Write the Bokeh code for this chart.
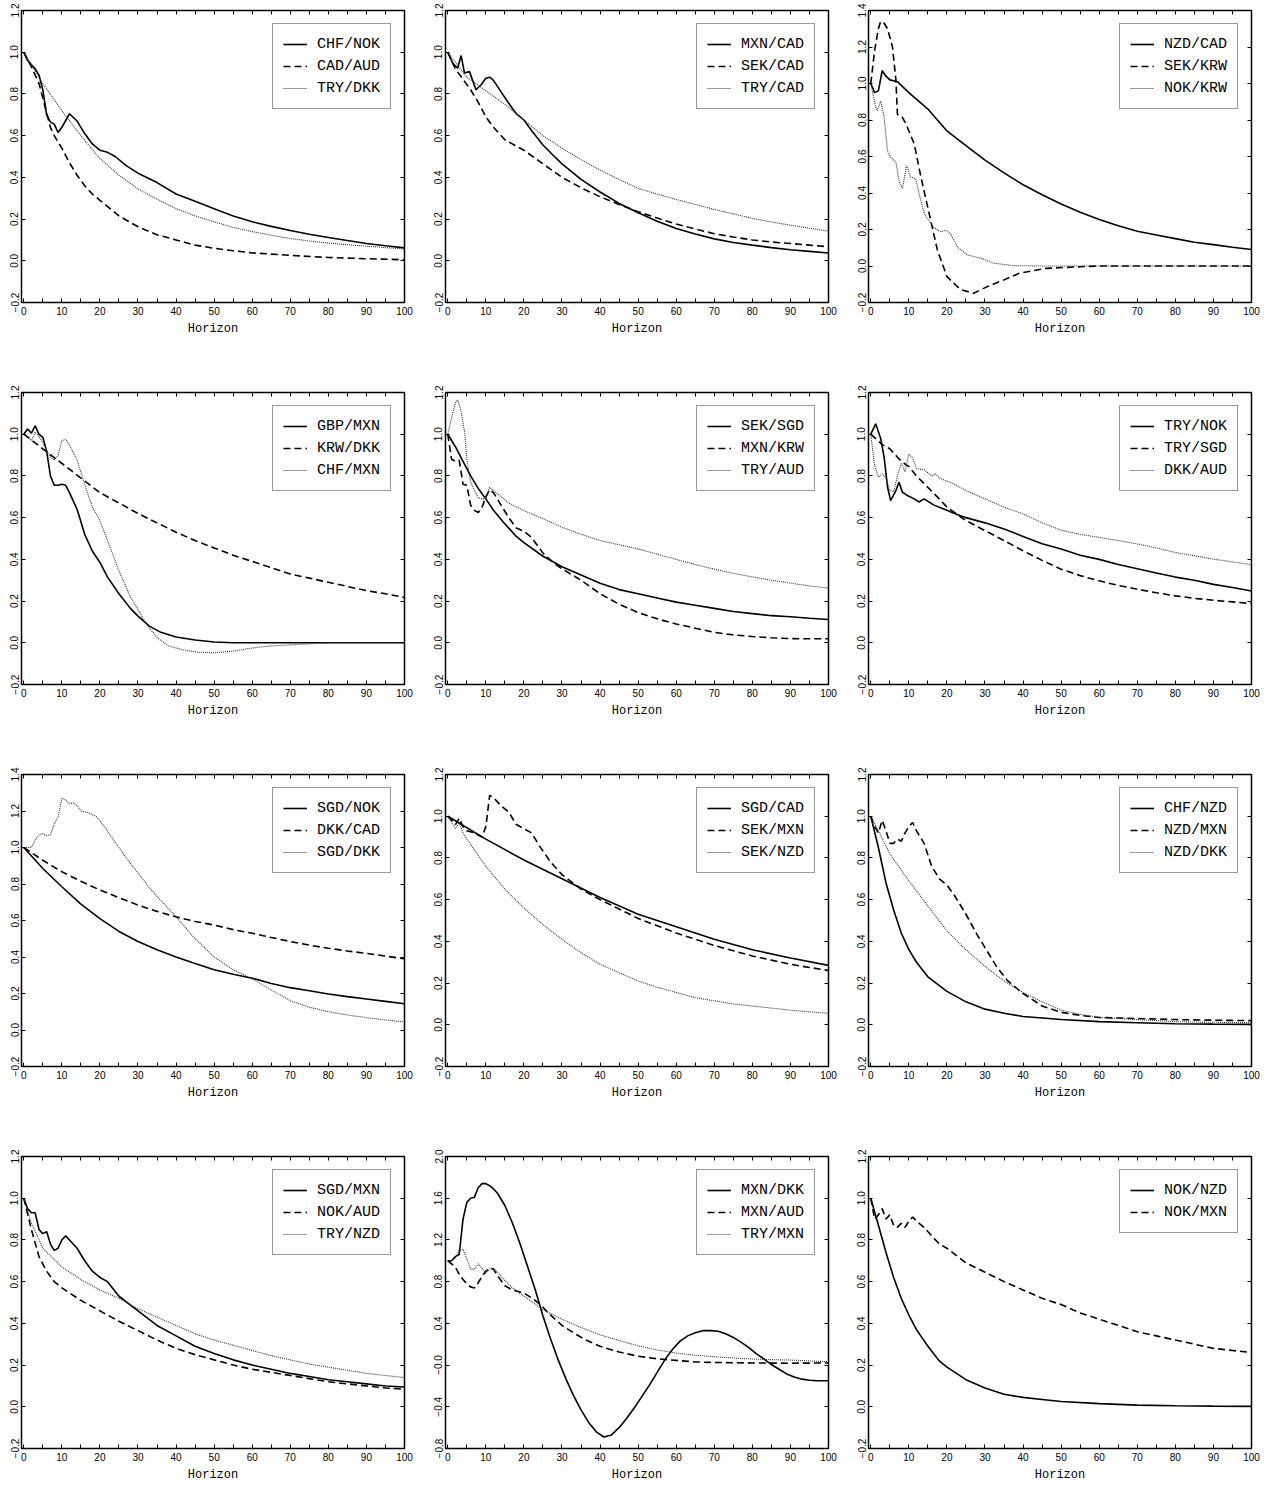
from bokeh.plotting import figure
from bokeh.layouts import gridplot
from bokeh.models import Range1d, FixedTicker, LinearAxis, CustomJSTickFormatter
from bokeh.embed import file_html
from bokeh.resources import INLINE

# ---------------- data ----------------
# Panel 1
chf_nok_h = [0,1,3,4,5,6,7,8,9,10,12,14,16,18,20,22,24,27,30,35,40,45,50,55,60,65,70,75,80,85,90,95,100]
chf_nok_v = [1.0,0.96,0.92,0.89,0.82,0.70,0.665,0.655,0.615,0.64,0.705,0.67,0.61,0.56,0.53,0.52,0.50,0.455,0.42,0.375,0.32,0.285,0.25,0.215,0.187,0.165,0.145,0.127,0.112,0.097,0.083,0.072,0.062]
cad_aud_h = [0,2,4,5,6,7,8,9,10,12,14,16,18,20,25,30,35,40,45,50,55,60,70,80,90,100]
cad_aud_v = [1.0,0.93,0.85,0.78,0.71,0.64,0.60,0.57,0.54,0.47,0.41,0.36,0.32,0.29,0.215,0.163,0.125,0.10,0.075,0.06,0.048,0.038,0.026,0.016,0.01,0.005]
try_dkk_h = [0,5,10,15,20,25,30,35,40,45,50,55,60,65,70,75,80,85,90,95,100]
try_dkk_v = [1.0,0.85,0.72,0.60,0.49,0.41,0.345,0.295,0.25,0.215,0.187,0.16,0.14,0.122,0.107,0.095,0.085,0.077,0.07,0.063,0.057]
# Panel 2
mxn_cad_h = [0,1.3,2.6,3.5,4.4,5.7,7.4,8.7,10,11,12,14,16,18,20,22,25,28,30,35,40,45,50,55,60,65,70,75,80,85,90,95,100]
mxn_cad_v = [1.0,0.947,0.923,0.984,0.90,0.907,0.82,0.843,0.875,0.88,0.865,0.81,0.755,0.705,0.675,0.625,0.555,0.50,0.465,0.39,0.33,0.275,0.23,0.19,0.155,0.128,0.105,0.088,0.075,0.063,0.053,0.045,0.037]
sek_cad_h = [0,2,4,6,8,10,12,15,20,25,30,35,40,45,50,55,60,65,70,75,80,85,90,95,100]
sek_cad_v = [1.0,0.92,0.87,0.82,0.76,0.69,0.64,0.58,0.53,0.465,0.40,0.35,0.307,0.27,0.235,0.205,0.176,0.152,0.13,0.114,0.10,0.09,0.083,0.075,0.067]
try_cad_h = [0,5,10,15,20,25,30,35,40,45,50,55,60,65,70,75,80,85,90,95,100]
try_cad_v = [1.0,0.88,0.815,0.75,0.675,0.60,0.54,0.485,0.435,0.39,0.347,0.32,0.294,0.27,0.246,0.225,0.203,0.186,0.171,0.156,0.142]
# Panel 3
nzd_cad_h = [0,1,2,3,4,5,7,10,15,20,25,30,35,40,45,50,55,60,65,70,75,80,85,90,95,100]
nzd_cad_v = [1.0,0.95,0.96,1.07,1.04,1.02,1.01,0.95,0.86,0.74,0.66,0.58,0.51,0.445,0.39,0.34,0.295,0.255,0.22,0.19,0.17,0.15,0.13,0.117,0.103,0.09]
sek_krw_h = [0,1,2,2.6,3.5,4.4,5.7,6.6,7,8.3,9.2,11.4,13,15.3,17.5,20,23.6,27,30.6,35,39,46,55,60,100]
sek_krw_v = [1.0,1.18,1.30,1.34,1.33,1.30,1.20,1.02,0.83,0.815,0.78,0.67,0.505,0.29,0.087,-0.058,-0.13,-0.149,-0.113,-0.076,-0.04,-0.013,-0.004,0.0,0.0]
nok_krw_h = [0,1.3,1.7,2.6,3.5,4.4,5.2,6.6,7.4,8.3,9.4,10.5,11.8,12.7,14,16.6,18.4,19.7,21,22.7,25.4,29,32.4,37.6,45,100]
nok_krw_v = [1.0,0.87,0.85,0.905,0.815,0.63,0.596,0.569,0.469,0.424,0.55,0.487,0.478,0.396,0.287,0.21,0.187,0.195,0.175,0.105,0.06,0.042,0.015,0.002,0.0,0.0]
# Panel 4
gbp_mxn_h = [0,1,2,3,4,5,6,7,8,9,10,11,12,14,16,18,20,22,25,28,30,33,36,40,45,50,55,100]
gbp_mxn_v = [1.0,1.025,1.005,1.04,1.0,0.985,0.92,0.80,0.755,0.755,0.76,0.755,0.72,0.64,0.52,0.44,0.385,0.315,0.235,0.165,0.128,0.08,0.05,0.028,0.013,0.004,0.0,0.0]
krw_dkk_h = [0,5,10,15,20,25,30,35,40,45,50,55,60,65,70,75,80,85,90,95,100]
krw_dkk_v = [1.0,0.93,0.86,0.79,0.72,0.67,0.62,0.575,0.53,0.49,0.455,0.42,0.39,0.36,0.33,0.31,0.29,0.27,0.25,0.235,0.217]
chf_mxn_h = [0,1,2,3,4,5,6,7,8,9,10,11,12,14,16,18,20,22,25,28,30,32,35,38,42,46,50,55,60,65,70,75,80,100]
chf_mxn_v = [1.0,0.99,0.97,1.01,0.99,0.96,0.92,0.89,0.875,0.90,0.97,0.975,0.95,0.875,0.76,0.65,0.585,0.49,0.345,0.22,0.16,0.095,0.025,-0.015,-0.035,-0.045,-0.048,-0.04,-0.025,-0.015,-0.01,-0.005,0.0,0.0]
# Panel 5
sek_sgd_h = [0,2,4,6,8,10,12,15,18,20,25,30,35,40,45,50,55,60,65,70,75,80,85,90,95,100]
sek_sgd_v = [1.0,0.94,0.87,0.80,0.74,0.69,0.635,0.57,0.51,0.48,0.415,0.365,0.325,0.285,0.255,0.235,0.215,0.195,0.18,0.165,0.15,0.14,0.13,0.125,0.118,0.112]
mxn_krw_h = [0,1,2,3,4,5,6,7,8,9,10,11,12,14,16,18,20,22,25,28,30,35,40,45,50,55,60,65,70,75,80,85,90,95,100]
mxn_krw_v = [1.0,0.88,0.87,0.875,0.76,0.755,0.66,0.635,0.625,0.65,0.70,0.735,0.72,0.66,0.60,0.55,0.535,0.505,0.43,0.38,0.355,0.30,0.235,0.185,0.145,0.115,0.09,0.07,0.05,0.038,0.03,0.024,0.02,0.019,0.019]
try_aud_h = [0,1,2,2.6,3.5,4.5,5,6,7,8,9,10,11,12,14,16,20,25,30,35,40,45,50,55,60,65,70,75,80,85,90,95,100]
try_aud_v = [1.0,1.08,1.15,1.165,1.11,1.0,0.88,0.77,0.73,0.695,0.69,0.69,0.745,0.73,0.70,0.67,0.634,0.595,0.554,0.52,0.49,0.47,0.45,0.425,0.40,0.375,0.353,0.333,0.316,0.30,0.286,0.273,0.262]
# Panel 6
try_nok_h = [0,1.3,2.6,3.5,4.4,5.2,6.6,7.4,8.3,9.6,11.4,12.7,14,16.6,20,22,25,30,35,40,45,50,55,60,65,70,75,80,85,90,95,100]
try_nok_v = [1.0,1.05,0.98,0.89,0.746,0.682,0.73,0.77,0.722,0.706,0.69,0.675,0.69,0.66,0.635,0.62,0.60,0.575,0.545,0.51,0.475,0.45,0.42,0.40,0.375,0.355,0.335,0.315,0.30,0.28,0.265,0.248]
try_sgd_h = [0,3,5,8,10,12,15,18,20,25,30,35,40,45,50,55,60,65,70,75,80,85,90,95,100]
try_sgd_v = [1.0,0.95,0.93,0.87,0.845,0.80,0.745,0.69,0.65,0.586,0.538,0.49,0.441,0.395,0.353,0.322,0.297,0.275,0.257,0.24,0.225,0.213,0.204,0.196,0.188]
dkk_aud_h = [0,1,2,3,4,5,6,7,8,9,10,11,12,14,16,17,18,20,22,25,30,35,40,45,50,55,60,65,70,75,80,85,90,95,100]
dkk_aud_v = [1.0,0.85,0.795,0.81,0.79,0.73,0.725,0.80,0.86,0.82,0.905,0.885,0.835,0.83,0.80,0.81,0.79,0.775,0.76,0.73,0.69,0.65,0.618,0.575,0.54,0.52,0.505,0.49,0.474,0.455,0.433,0.417,0.401,0.388,0.374]
# Panel 7
sgd_nok_h = [0,5,10,15,20,25,30,35,40,45,50,55,60,65,70,75,80,85,90,95,100]
sgd_nok_v = [1.0,0.885,0.785,0.69,0.61,0.54,0.485,0.44,0.40,0.365,0.33,0.305,0.284,0.255,0.232,0.215,0.197,0.183,0.17,0.157,0.144]
dkk_cad_h = [0,5,10,15,20,25,30,35,40,45,50,55,60,65,70,75,80,85,90,95,100]
dkk_cad_v = [1.0,0.93,0.867,0.815,0.767,0.725,0.685,0.65,0.62,0.595,0.575,0.55,0.53,0.507,0.485,0.465,0.448,0.433,0.42,0.405,0.39]
sgd_dkk_h = [0,2,3,4,5,6,7,8,9,10,11,12,13,14,15,17,19,21,24,27,30,33,36,40,45,50,55,60,65,70,75,80,85,90,95,100]
sgd_dkk_v = [1.0,1.0,1.04,1.07,1.075,1.065,1.07,1.13,1.17,1.27,1.26,1.24,1.245,1.23,1.20,1.19,1.17,1.12,1.03,0.94,0.86,0.78,0.71,0.62,0.50,0.40,0.33,0.28,0.22,0.16,0.125,0.10,0.082,0.068,0.055,0.044]
# Panel 8
sgd_cad_h = [0,10,20,30,40,50,60,70,80,90,100]
sgd_cad_v = [1.0,0.89,0.79,0.70,0.61,0.53,0.47,0.41,0.36,0.32,0.285]
sek_mxn_h = [0,2,3,4,5,7,9,10,11,12,14,16,18,20,22,24,27,30,35,40,45,50,55,60,65,70,75,80,85,90,95,100]
sek_mxn_v = [1.0,0.96,0.99,0.95,0.93,0.92,0.90,0.95,1.10,1.09,1.05,1.02,0.96,0.94,0.92,0.86,0.78,0.72,0.65,0.60,0.555,0.51,0.475,0.44,0.41,0.38,0.355,0.33,0.31,0.29,0.275,0.26]
sek_nzd_h = [0,2,3,4,5,10,15,20,25,30,35,40,45,50,55,60,65,70,75,80,85,90,95,100]
sek_nzd_v = [1.0,0.94,0.97,0.92,0.89,0.76,0.65,0.56,0.48,0.41,0.345,0.29,0.25,0.21,0.18,0.155,0.13,0.115,0.10,0.09,0.08,0.07,0.062,0.055]
# Panel 9
chf_nzd_h = [0,2,4,6,8,10,12,15,20,25,30,35,40,50,60,70,80,90,100]
chf_nzd_v = [1.0,0.85,0.68,0.55,0.44,0.36,0.30,0.23,0.16,0.11,0.075,0.055,0.04,0.025,0.015,0.01,0.005,0.003,0.002]
nzd_mxn_h = [0,1,2,3,4,5,6,7,8,9,10,11,12,14,16,18,20,22,25,28,30,33,36,40,45,50,55,60,70,80,90,100]
nzd_mxn_v = [1.0,0.95,0.92,0.98,0.93,0.87,0.87,0.89,0.88,0.92,0.95,0.97,0.93,0.87,0.76,0.70,0.67,0.62,0.53,0.43,0.37,0.28,0.21,0.15,0.09,0.06,0.045,0.035,0.03,0.025,0.022,0.02]
nzd_dkk_h = [0,2,5,10,15,20,25,30,35,40,45,50,55,60,70,80,90,100]
nzd_dkk_v = [1.0,0.93,0.82,0.69,0.57,0.45,0.36,0.28,0.21,0.155,0.11,0.07,0.05,0.035,0.025,0.015,0.012,0.01]
# Panel 10
sgd_mxn_h = [0,1,2,3,4,5,6,7,8,9,10,11,12,14,16,18,20,22,25,30,35,40,45,50,55,60,65,70,75,80,85,90,95,100]
sgd_mxn_v = [1.0,0.95,0.93,0.93,0.85,0.83,0.84,0.78,0.75,0.76,0.80,0.82,0.80,0.76,0.70,0.65,0.62,0.60,0.53,0.46,0.39,0.34,0.29,0.255,0.225,0.20,0.18,0.16,0.145,0.13,0.12,0.11,0.10,0.095]
nok_aud_h = [0,2,4,6,8,10,15,20,25,30,35,40,45,50,55,60,65,70,75,80,85,90,95,100]
nok_aud_v = [1.0,0.85,0.72,0.65,0.60,0.57,0.51,0.46,0.41,0.365,0.32,0.28,0.25,0.225,0.20,0.18,0.165,0.15,0.135,0.12,0.11,0.10,0.09,0.085]
try_nzd_h = [0,2,5,10,15,20,25,30,35,40,45,50,55,60,65,70,75,80,85,90,95,100]
try_nzd_v = [1.0,0.88,0.76,0.67,0.61,0.56,0.52,0.47,0.43,0.39,0.35,0.32,0.295,0.27,0.245,0.225,0.205,0.19,0.175,0.16,0.15,0.14]
# Panel 11
mxn_dkk_h = [0,1,2,3,4,5,6,7,8,9,10,11,12,13,15,17,19,21,23,25,27,29,31,33,35,37,39,41,43,45,47,49,51,53,55,57,59,61,63,65,67,69,71,73,75,77,79,81,83,85,87,89,91,93,95,97,100]
mxn_dkk_v = [1.0,1.0,1.04,1.06,1.40,1.56,1.60,1.61,1.70,1.74,1.74,1.72,1.69,1.65,1.53,1.36,1.16,0.94,0.72,0.47,0.25,0.05,-0.13,-0.29,-0.43,-0.55,-0.64,-0.69,-0.67,-0.60,-0.51,-0.41,-0.30,-0.19,-0.07,0.05,0.15,0.23,0.28,0.31,0.33,0.33,0.325,0.30,0.265,0.22,0.17,0.11,0.06,0.005,-0.04,-0.085,-0.115,-0.135,-0.145,-0.15,-0.15]
mxn_aud_h = [0,2,3,4,5,6,7,8,9,10,11,12,13,15,17,20,22,24,27,30,33,36,40,45,50,55,60,65,70,80,90,100]
mxn_aud_v = [1.0,0.94,0.87,0.82,0.78,0.75,0.74,0.79,0.85,0.90,0.93,0.92,0.86,0.76,0.72,0.69,0.645,0.59,0.48,0.38,0.31,0.245,0.18,0.125,0.085,0.06,0.045,0.03,0.025,0.02,0.018,0.02]
try_mxn_h = [0,1,2,3,4,5,6,7,8,9,10,11,12,13,15,17,20,22,25,30,35,40,45,50,55,60,65,70,75,80,85,90,95,100]
try_mxn_v = [1.0,1.0,1.03,1.1,1.11,1.02,0.92,0.92,0.97,0.93,0.88,0.92,0.93,0.89,0.81,0.74,0.66,0.61,0.53,0.44,0.36,0.29,0.235,0.185,0.145,0.115,0.095,0.08,0.068,0.058,0.052,0.048,0.04,0.032]
# Panel 12
nok_nzd_h = [0,2,4,6,8,10,12,15,18,20,25,30,35,40,45,50,60,70,80,90,100]
nok_nzd_v = [1.0,0.87,0.74,0.62,0.52,0.44,0.37,0.29,0.22,0.19,0.13,0.09,0.06,0.045,0.035,0.025,0.015,0.008,0.005,0.003,0.002]
nok_mxn_h = [0,1,2,3,4,5,6,7,8,9,10,11,12,14,16,18,20,25,30,35,40,45,50,55,60,65,70,75,80,85,90,95,100]
nok_mxn_v = [1.0,0.90,0.92,0.95,0.90,0.92,0.87,0.86,0.88,0.86,0.89,0.91,0.89,0.86,0.82,0.78,0.76,0.69,0.645,0.60,0.56,0.52,0.49,0.45,0.42,0.39,0.36,0.34,0.32,0.30,0.28,0.27,0.26]

# y tick positions per panel type; x ticks shared
yticks_a = [-0.2, 0.0, 0.2, 0.4, 0.6, 0.8, 1.0, 1.2]
yticks_b = [-0.2, 0.0, 0.2, 0.4, 0.6, 0.8, 1.0, 1.2, 1.4]
yticks_c = [-0.8, -0.4, 0.0, 0.4, 0.8, 1.2, 1.6, 2.0]
xticks = [0, 10, 20, 30, 40, 50, 60, 70, 80, 90, 100]
xminor = [5, 15, 25, 35, 45, 55, 65, 75, 85, 95]

panels = [
    (yticks_a, [("CHF/NOK", chf_nok_h, chf_nok_v), ("CAD/AUD", cad_aud_h, cad_aud_v), ("TRY/DKK", try_dkk_h, try_dkk_v)]),
    (yticks_a, [("MXN/CAD", mxn_cad_h, mxn_cad_v), ("SEK/CAD", sek_cad_h, sek_cad_v), ("TRY/CAD", try_cad_h, try_cad_v)]),
    (yticks_b, [("NZD/CAD", nzd_cad_h, nzd_cad_v), ("SEK/KRW", sek_krw_h, sek_krw_v), ("NOK/KRW", nok_krw_h, nok_krw_v)]),
    (yticks_a, [("GBP/MXN", gbp_mxn_h, gbp_mxn_v), ("KRW/DKK", krw_dkk_h, krw_dkk_v), ("CHF/MXN", chf_mxn_h, chf_mxn_v)]),
    (yticks_a, [("SEK/SGD", sek_sgd_h, sek_sgd_v), ("MXN/KRW", mxn_krw_h, mxn_krw_v), ("TRY/AUD", try_aud_h, try_aud_v)]),
    (yticks_a, [("TRY/NOK", try_nok_h, try_nok_v), ("TRY/SGD", try_sgd_h, try_sgd_v), ("DKK/AUD", dkk_aud_h, dkk_aud_v)]),
    (yticks_b, [("SGD/NOK", sgd_nok_h, sgd_nok_v), ("DKK/CAD", dkk_cad_h, dkk_cad_v), ("SGD/DKK", sgd_dkk_h, sgd_dkk_v)]),
    (yticks_a, [("SGD/CAD", sgd_cad_h, sgd_cad_v), ("SEK/MXN", sek_mxn_h, sek_mxn_v), ("SEK/NZD", sek_nzd_h, sek_nzd_v)]),
    (yticks_a, [("CHF/NZD", chf_nzd_h, chf_nzd_v), ("NZD/MXN", nzd_mxn_h, nzd_mxn_v), ("NZD/DKK", nzd_dkk_h, nzd_dkk_v)]),
    (yticks_a, [("SGD/MXN", sgd_mxn_h, sgd_mxn_v), ("NOK/AUD", nok_aud_h, nok_aud_v), ("TRY/NZD", try_nzd_h, try_nzd_v)]),
    (yticks_c, [("MXN/DKK", mxn_dkk_h, mxn_dkk_v), ("MXN/AUD", mxn_aud_h, mxn_aud_v), ("TRY/MXN", try_mxn_h, try_mxn_v)]),
    (yticks_a, [("NOK/NZD", nok_nzd_h, nok_nzd_v), ("NOK/MXN", nok_mxn_h, nok_mxn_v)]),
]

styles = [
    dict(line_color="black", line_width=1.6),
    dict(line_color="black", line_width=1.6, line_dash="7 4"),
    dict(line_color="#333333", line_width=1.1, line_dash="1 1"),
]

widths = [424, 423, 423]
heights = [382, 382, 382, 339]
FRAME_W, FRAME_H = 383, 292
MONO = "Liberation Mono"
SANS = "Liberation Sans"

yfmt_code = """
if (Math.abs(tick) < 1e-9) { return neg0 ? "\\u22120.0" : "0.0"; }
const s = Math.abs(tick).toFixed(1);
return tick < 0 ? "\\u2212" + s : s;
"""


def tick_only_axis(ticker, minor_in):
    # an axis that only draws inward tick marks (mirror of the opposite side)
    return LinearAxis(ticker=ticker, major_label_text_font_size="1px",
                      major_label_text_color=None, major_label_standoff=0,
                      major_tick_in=4, major_tick_out=0,
                      minor_tick_in=minor_in, minor_tick_out=0,
                      axis_line_color=None)


rows = []
for r in range(4):
    row = []
    for c in range(3):
        yt, series = panels[r * 3 + c]
        w, h = widths[c], heights[r]
        p = figure(width=w, height=h, output_backend="svg", toolbar_location=None,
                   x_range=Range1d(-0.6, 100), y_range=Range1d(yt[0], yt[-1]),
                   min_border_left=21, min_border_right=w - 21 - FRAME_W,
                   min_border_top=10, min_border_bottom=h - 10 - FRAME_H,
                   background_fill_color="white", border_fill_color="white")
        p.grid.visible = False
        p.outline_line_color = "black"
        p.outline_line_width = 1.5

        for i, (name, hx, vy) in enumerate(series):
            p.line(hx, vy, legend_label=name, **styles[i])

        xa = p.xaxis[0]
        xa.ticker = FixedTicker(ticks=xticks, minor_ticks=xminor)
        xa.axis_label = "Horizon"
        ya = p.yaxis[0]
        ya.ticker = FixedTicker(ticks=yt, minor_ticks=[])
        ya.formatter = CustomJSTickFormatter(code=yfmt_code, args=dict(neg0=(yt[0] < -0.5)))
        ya.major_label_orientation = "vertical"
        for ax in (xa, ya):
            ax.axis_line_color = None
            ax.major_tick_in = 4
            ax.major_tick_out = 0
            ax.minor_tick_in = 4
            ax.minor_tick_out = 0
            ax.major_tick_line_color = "black"
            ax.minor_tick_line_color = "black"
            ax.major_label_text_font = SANS
            ax.major_label_text_font_size = "10px"
            ax.major_label_text_color = "black"
            ax.major_label_standoff = 4
        ya.major_label_standoff = 3
        xa.axis_label_text_font = MONO
        xa.axis_label_text_font_size = "12px"
        xa.axis_label_text_font_style = "normal"
        xa.axis_label_text_color = "black"
        xa.axis_label_standoff = 4

        p.add_layout(tick_only_axis(FixedTicker(ticks=xticks, minor_ticks=xminor), 4), "above")
        p.add_layout(tick_only_axis(FixedTicker(ticks=yt, minor_ticks=[]), 0), "right")

        lg = p.legend[0]
        lg.location = "top_right"
        lg.margin = 13
        lg.padding = 10
        lg.spacing = 2
        lg.glyph_width = 24
        lg.glyph_height = 20
        lg.label_height = 20
        lg.label_standoff = 10
        lg.label_text_font = MONO
        lg.label_text_font_size = "15px"
        lg.label_text_color = "black"
        lg.border_line_color = "#333333"
        lg.border_line_width = 1
        lg.background_fill_color = "white"
        lg.background_fill_alpha = 1.0
        row.append(p)
    rows.append(row)

grid = gridplot(rows, toolbar_location=None)
open("out.html", "w").write(file_html(grid, INLINE))
